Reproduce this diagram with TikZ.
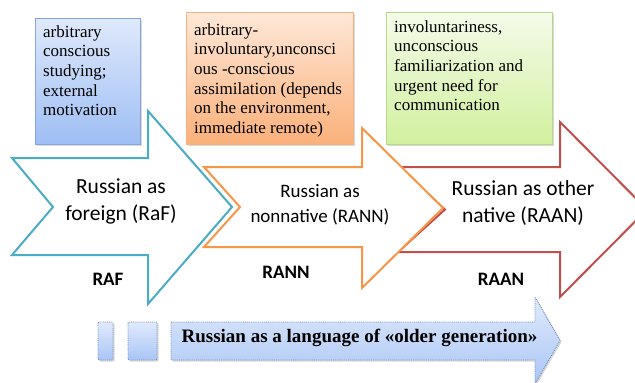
\documentclass[tikz,border=0pt]{standalone}
\usepackage{fontspec}
\setmainfont{Liberation Serif}
\newfontfamily\calibri{Carlito}
\usetikzlibrary{shadows}
\definecolor{arrblue}{HTML}{4BACC6}
\definecolor{arrorange}{HTML}{F79646}
\definecolor{arrred}{HTML}{C0504D}
\definecolor{bboxtop}{HTML}{DFE9FB}
\definecolor{bboxbot}{HTML}{9EBEF4}
\definecolor{bboxline}{HTML}{84A6DC}
\definecolor{oboxtop}{HTML}{FEE8D8}
\definecolor{oboxbot}{HTML}{FAB07A}
\definecolor{oboxline}{HTML}{F7B182}
\definecolor{gboxtop}{HTML}{F5FBEA}
\definecolor{gboxbot}{HTML}{D1F09E}
\definecolor{gboxline}{HTML}{B6D98C}
\definecolor{bartop}{HTML}{E0EAFC}
\definecolor{barbot}{HTML}{A9C5F5}
\definecolor{barline}{HTML}{6F8FC4}
\begin{document}
\begin{tikzpicture}[x=1pt,y=-1pt,
  bigarrow/.style={line width=2pt, fill=white, line join=miter},
  notebox/.style={line width=0.8pt, drop shadow={shadow xshift=2pt,shadow yshift=-2pt,opacity=0.3}},
  notetext/.style={anchor=north west, align=left, inner sep=0pt, font=\fontsize{17}{19.6}\selectfont},
  arrowtext/.style={anchor=north, align=center, inner sep=0pt},
  abbr/.style={anchor=base, inner sep=0pt, font=\calibri\bfseries\fontsize{19}{22}\selectfont},
  barshape/.style={draw=barline, densely dotted, line width=0.9pt, top color=bartop, bottom color=barbot,
    drop shadow={shadow xshift=1.5pt,shadow yshift=-1.5pt,opacity=0.3}}
]
\useasboundingbox (0,0) rectangle (635,383);
\clip (0,0) rectangle (635,383);
\fill[white] (0,0) rectangle (635,383);

% big arrows
\draw[bigarrow, draw=arrred] (398,167) -- (560,167) -- (560,122) -- (647,209.5) -- (560,297) -- (560,252) -- (398,252) -- (445,209.5) -- cycle;
\draw[bigarrow, draw=arrorange] (204,167) -- (362,167) -- (362,128) -- (443,208) -- (362,288) -- (362,247) -- (204,247) -- (240,207) -- cycle;
\draw[bigarrow, draw=arrblue] (12,158) -- (148,158) -- (148,111) -- (232,207) -- (148,304) -- (148,255) -- (12,255) -- (53,207) -- cycle;

% note boxes
\path[notebox, draw=bboxline, top color=bboxtop, bottom color=bboxbot] (35,18) rectangle (140,144);
\path[notebox, draw=oboxline, top color=oboxtop, bottom color=oboxbot] (186,12) rectangle (353,144);
\path[notebox, draw=gboxline, top color=gboxtop, bottom color=gboxbot] (386,12) rectangle (552,144);

\node[notetext] (bluetext) at (43,23.3) {\strut arbitrary\\conscious\\studying;\\external\\motivation};
\node[notetext] (orangetext) at (194,21.3) {\strut arbitrary-\\involuntary,unconsci\\ous -conscious\\assimilation (depends\\on the environment,\\immediate remote)};
\node[notetext] (greentext) at (394,18.3) {\strut involuntariness,\\unconscious\\familiarization and\\urgent need for\\communication};

% arrow labels
\node[arrowtext, font=\calibri\fontsize{21.5}{27}\selectfont] (raf) at (121,174.1) {\strut Russian as\\\strut foreign (RaF)};
\node[arrowtext, font=\calibri\fontsize{19}{25}\selectfont] (rann) at (320,179.5) {\strut Russian as\\\strut nonnative (RANN)};
\node[arrowtext, font=\calibri\fontsize{21.5}{27}\selectfont] (raan) at (523,176.1) {\strut Russian as other\\\strut native (RAAN)};

\node[abbr] (rafabbr) at (108,285) {RAF};
\node[abbr] (rannabbr) at (286,278) {RANN};
\node[abbr] (raanabbr) at (501,285) {RAAN};

% bottom bar
\path[barshape, rounded corners=1pt] (98,322) rectangle (113,360);
\path[barshape, rounded corners=1pt] (128,322) rectangle (157,360);
\path[barshape] (171,322) -- (535,322) -- (535,297) -- (560,340.5) -- (535,384) -- (535,360) -- (171,360) -- cycle;
\node[anchor=base, inner sep=0pt, font=\bfseries\fontsize{19}{22}\selectfont] (older) at (359.5,342) {Russian as a language of «older generation»};
\end{tikzpicture}
\end{document}
